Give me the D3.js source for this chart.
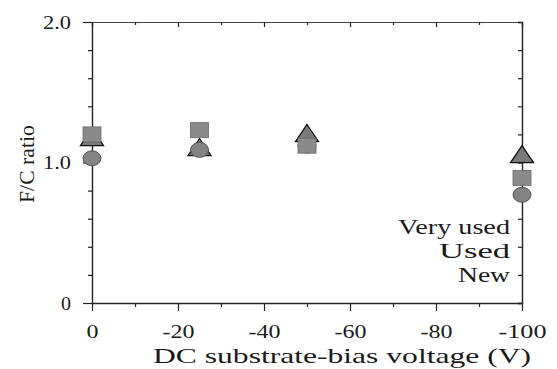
<!DOCTYPE html>
<html>
<head>
<meta charset="utf-8">
<script src="https://cdn.jsdelivr.net/npm/d3@7"></script>
<style>
  html, body { margin: 0; padding: 0; background: #fff; }
  svg { display: block; }
  text { font-family: "Liberation Serif", "Times New Roman", serif; fill: #1a1a1a; }
</style>
</head>
<body>
<svg id="chart" width="557" height="369"></svg>
<script>
// ---- data ----
const voltages = [0, -25, -50, -100];
const veryUsed = [1.18, 1.11, 1.21, 1.06];   // triangles
const used     = [1.20, 1.23, 1.12, 0.89];   // squares
const fresh    = [1.03, 1.09, 1.12, 0.77];   // circles ("New")
const legendLabels = ["Very used", "Used", "New"];
const xMajorTicks = [0, -20, -40, -60, -80, -100];
const xMinorTicks = [-10, -30, -50, -70, -90];
const yMajorTicks = [0, 1, 2];
const yMinorTicks = [0.2, 0.4, 0.6, 0.8, 1.2, 1.4, 1.6, 1.8];
const yTickLabels = ["0", "1.0", "2.0"];

// ---- layout ----
const L = 92, R = 522, T = 22, B = 303;
const svg = d3.select("#chart");
const x = d3.scaleLinear().domain([0, -100]).range([L, R]);
const y = d3.scaleLinear().domain([0, 2]).range([B, T]);
const axisColor = "#222";
const FONT = "'Liberation Serif', 'Times New Roman', serif";
// horizontal widths of stretched glyph runs (reference is stretched horizontally)
const xLabelWidth = s => ({1: 12, 3: 32, 4: 48})[s.length] || s.length * 11;
const yLabelWidth = s => ({1: 10, 3: 28})[s.length] || s.length * 9;

function styleAxis(g) {
  g.attr("font-family", FONT);
  g.selectAll("path.domain").attr("stroke", axisColor).attr("stroke-width", 1.4);
  g.selectAll(".tick line").attr("stroke", axisColor).attr("stroke-width", 1.2);
}

// bottom axis
const gb = svg.append("g").attr("transform", `translate(0,${B})`)
  .call(d3.axisBottom(x).tickValues(xMajorTicks).tickSizeInner(8).tickSizeOuter(0)
    .tickFormat(d => d3.format("d")(d).replace("\u2212", "-")));
styleAxis(gb);
gb.selectAll(".tick text").each(function() {
  const t = d3.select(this), s = t.text(), w = xLabelWidth(s);
  t.attr("font-size", 19).attr("text-anchor", "start").attr("x", -w / 2)
   .attr("y", 22).attr("dy", "0.71em").attr("fill", "#1a1a1a")
   .attr("textLength", w).attr("lengthAdjust", "spacingAndGlyphs");
});
const gbm = svg.append("g").attr("transform", `translate(0,${B})`)
  .call(d3.axisBottom(x).tickValues(xMinorTicks).tickSize(4).tickFormat(""));
gbm.select("path.domain").remove();
styleAxis(gbm);

// top axis
const gt = svg.append("g").attr("transform", `translate(0,${T})`)
  .call(d3.axisTop(x).tickValues(xMajorTicks).tickSize(-5).tickFormat(""));
styleAxis(gt);
gt.select("path.domain").attr("stroke-width", 1.1).attr("stroke", "#444");
const gtm = svg.append("g").attr("transform", `translate(0,${T})`)
  .call(d3.axisTop(x).tickValues(xMinorTicks).tickSize(-3).tickFormat(""));
gtm.select("path.domain").remove();
styleAxis(gtm);

// left axis
const gl = svg.append("g").attr("transform", `translate(${L},0)`)
  .call(d3.axisLeft(y).tickValues(yMajorTicks).tickSizeInner(9).tickSizeOuter(0)
    .tickFormat((d, i) => yTickLabels[i]));
styleAxis(gl);
gl.selectAll(".tick text").each(function() {
  const t = d3.select(this), s = t.text(), w = yLabelWidth(s);
  t.attr("font-size", 19).attr("text-anchor", "start").attr("x", -21 - w)
   .attr("dy", "0.33em").attr("fill", "#1a1a1a")
   .attr("textLength", w).attr("lengthAdjust", "spacingAndGlyphs");
});
const glm = svg.append("g").attr("transform", `translate(${L},0)`)
  .call(d3.axisLeft(y).tickValues(yMinorTicks).tickSize(4).tickFormat(""));
glm.select("path.domain").remove();
styleAxis(glm);

// right axis
const gr = svg.append("g").attr("transform", `translate(${R},0)`)
  .call(d3.axisRight(y).tickValues(yMajorTicks.concat(yMinorTicks)).tickSize(-4).tickFormat(""));
styleAxis(gr);

// ---- markers (horizontally stretched like the reference) ----
const triPath = "M0,-8.5L11.5,8.5L-11.5,8.5Z";
svg.append("g").selectAll("path").data(voltages.map((v, i) => [v, veryUsed[i]])).join("path")
  .attr("d", triPath)
  .attr("transform", d => `translate(${x(d[0])},${y(d[1])})`)
  .attr("fill", "#7a7a7a").attr("stroke", "#111").attr("stroke-width", 1.3);
svg.append("g").selectAll("ellipse").data(voltages.map((v, i) => [v, fresh[i]])).join("ellipse")
  .attr("cx", d => x(d[0])).attr("cy", d => y(d[1])).attr("rx", 9).attr("ry", 7.5)
  .attr("fill", "#838383").attr("stroke", "#555").attr("stroke-width", 1);
svg.append("g").selectAll("rect").data(voltages.map((v, i) => [v, used[i]])).join("rect")
  .attr("x", d => x(d[0]) - 9).attr("y", d => y(d[1]) - 7.5)
  .attr("width", 18).attr("height", 15)
  .attr("fill", "#8a8a8a").attr("stroke", "#666").attr("stroke-width", 0.8);

// ---- legend (text only) ----
const legendBase = [234, 258, 282];
const legendWidth = [112, 71, 52];
svg.append("g").selectAll("text").data(legendLabels).join("text")
  .attr("x", (d, i) => 510 - legendWidth[i]).attr("y", (d, i) => legendBase[i])
  .attr("font-size", 20)
  .attr("textLength", (d, i) => legendWidth[i]).attr("lengthAdjust", "spacingAndGlyphs")
  .text(d => d);

// ---- axis titles ----
svg.append("text").attr("x", 153).attr("y", 363).attr("font-size", 21)
  .attr("textLength", 378).attr("lengthAdjust", "spacingAndGlyphs")
  .text("DC substrate-bias voltage (V)");
svg.append("text").attr("transform", "translate(34,164) rotate(-90)")
  .attr("x", -39).attr("font-size", 21)
  .attr("textLength", 78).attr("lengthAdjust", "spacingAndGlyphs")
  .text("F/C ratio");
</script>
</body>
</html>
